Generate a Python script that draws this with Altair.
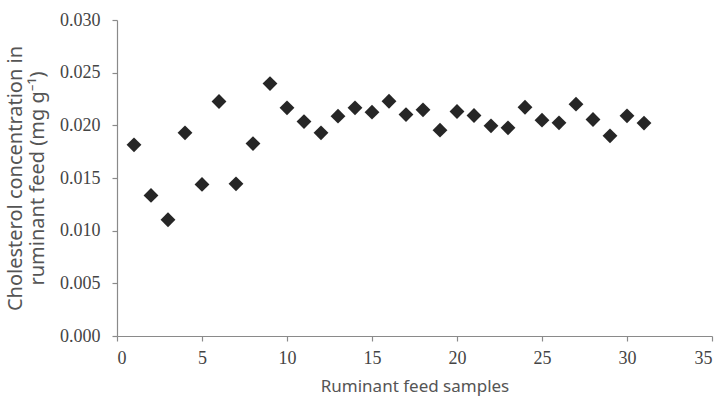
import altair as alt
import pandas as pd

samples = list(range(1, 32))
cholesterol = [0.01815, 0.01335, 0.01104, 0.01929, 0.01439, 0.02226, 0.01445, 0.01827,
               0.02396, 0.02166, 0.02036, 0.01929, 0.02087, 0.02166, 0.02125, 0.02229,
               0.02102, 0.02147, 0.01954, 0.02131, 0.02093, 0.01995, 0.01976, 0.02172,
               0.02049, 0.02024, 0.02201, 0.02055, 0.01900, 0.02090, 0.02021]
x_ticks = [0, 5, 10, 15, 20, 25, 30, 35]
y_ticks = [0.0, 0.005, 0.010, 0.015, 0.020, 0.025, 0.030]

df = pd.DataFrame({"sample": samples, "chol": cholesterol})

axis_common = dict(
    domainColor="#8a8a8a", tickColor="#8a8a8a", domainWidth=1.2, tickWidth=1.2,
    tickSize=5, grid=False, labelFont="Liberation Serif", labelFontSize=18,
    labelColor="#444444", titleFont="Noto Sans",
    titleColor="#555555", titleFontWeight="normal",
)

chart = alt.Chart(df).mark_point(
    shape="diamond", filled=True, size=220, color="#262626", opacity=1
).encode(
    x=alt.X("sample:Q", scale=alt.Scale(domain=[0, 35], nice=False),
            axis=alt.Axis(values=x_ticks, title="Ruminant feed samples",
                          titleFontSize=17, labelPadding=8, titlePadding=11,
                          **axis_common)),
    y=alt.Y("chol:Q", scale=alt.Scale(domain=[0, 0.03], nice=False),
            axis=alt.Axis(values=y_ticks, format=".3f",
                          title=["Cholesterol concentration in", "ruminant feed (mg g⁻¹)"],
                          titleFontSize=20, titleLineHeight=22, labelPadding=12,
                          titlePadding=12, **axis_common)),
).properties(
    width=595, height=316,
    padding={"left": 117, "top": 20, "right": 11, "bottom": 64},
    autosize=alt.AutoSizeParams(type="none"),
).configure_view(stroke=None)

chart.save("out.html", embed_options={"renderer": "svg", "actions": False})
